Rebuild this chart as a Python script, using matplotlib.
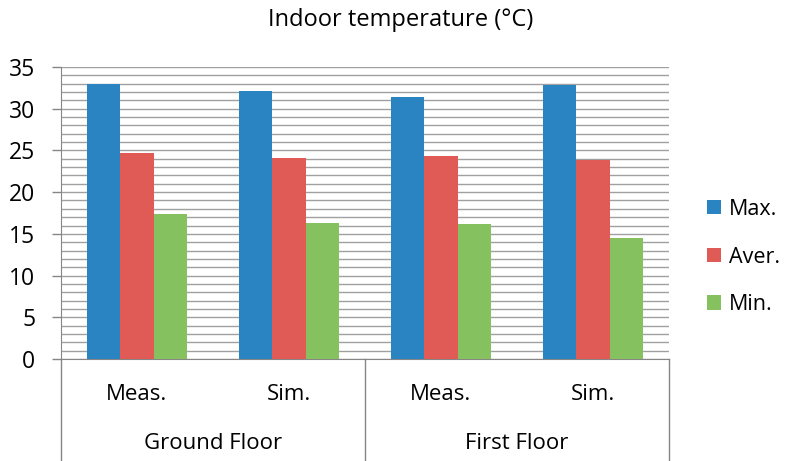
import matplotlib
matplotlib.use("Agg")
import matplotlib.pyplot as plt
import matplotlib.transforms as mtransforms
import numpy as np

plt.rcParams['font.family'] = ['Open Sans', 'DejaVu Sans']

groups = ["Ground Floor", "First Floor"]
categories = ["Meas.", "Sim.", "Meas.", "Sim."]
series_names = ["Max.", "Aver.", "Min."]
max_vals = [33.0, 32.1, 31.4, 32.9]
aver_vals = [24.7, 24.1, 24.3, 23.8]
min_vals = [17.4, 16.3, 16.2, 14.5]
colors = ["#2A84C2", "#E05A56", "#86C160"]
yticks = [0, 5, 10, 15, 20, 25, 30, 35]

fig = plt.figure(figsize=(7.88, 4.61), dpi=100)
ax = fig.add_axes([61/788, 1-359/461, (669-61)/788, (359-67)/461])

x = np.arange(len(categories))
w = 0.218
for i, (vals, name) in enumerate(zip([max_vals, aver_vals, min_vals], series_names)):
    ax.bar(x + (i-1)*w, vals, width=w, color=colors[i], label=name, zorder=3)

ax.set_xlim(-0.5, len(categories)-0.5)
ax.set_ylim(0, 35)
ax.set_yticks(yticks)
ax.set_yticks(np.arange(0, 36, 1), minor=True)
ax.tick_params(axis='y', which='major', length=6.5, width=1, color='#868686', labelsize=16.5, pad=12)
ax.tick_params(axis='y', which='minor', length=0)
ax.grid(axis='y', which='both', color='#A0A0A0', linewidth=1.0, zorder=0)
ax.set_axisbelow(True)
ax.set_xticks([])
for s in ['top', 'right']:
    ax.spines[s].set_visible(False)
ax.spines['left'].set_color('#868686')
ax.spines['bottom'].set_color('#868686')

trans = mtransforms.blended_transform_factory(ax.transData, ax.transAxes)
# category labels
for xi, c in zip(x, categories):
    ax.text(xi, -35/292, c, transform=trans, ha='center', va='center', fontsize=16)
# group labels and separators
for gi, g in enumerate(groups):
    ax.text(gi*2 + 0.5, -84/292, g, transform=trans, ha='center', va='center', fontsize=16)
for sx in [-0.5, 1.5, 3.5]:
    ax.plot([sx, sx], [0, -102/292], transform=trans, color='#868686', lw=1, clip_on=False)

fig.text(401/788, 1-20/461, "Indoor temperature (°C)", ha='center', va='center', fontsize=17)

fig.legend(loc='center left', bbox_to_anchor=(707/788, 1-257/461), frameon=False,
           borderpad=0, borderaxespad=0, handlelength=0.65, handleheight=0.65,
           handletextpad=0.36, labelspacing=1.24, fontsize=15.5)

fig.savefig("out.png", dpi=100)
